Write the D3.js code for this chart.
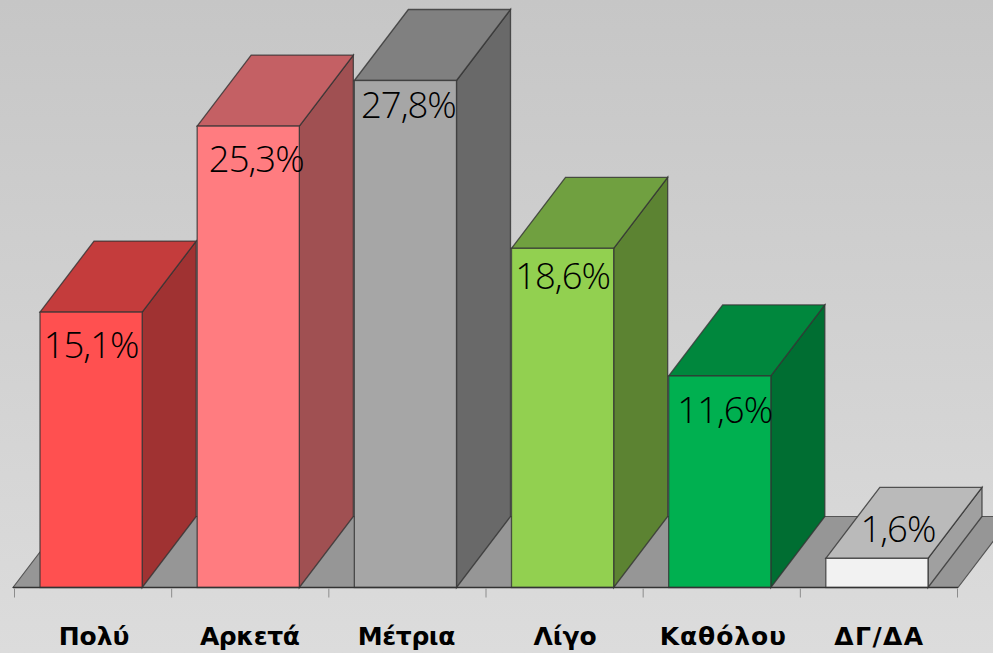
<!DOCTYPE html>
<html><head><meta charset="utf-8">
<script src="https://cdnjs.cloudflare.com/ajax/libs/d3/7.8.5/d3.min.js"></script>
<style>html,body{margin:0;padding:0;background:#d4d4d4}svg{display:block}</style>
</head><body><svg id="c" width="993" height="653"></svg>
<script>
const categories = ["Πολύ","Αρκετά","Μέτρια","Λίγο","Καθόλου","ΔΓ/ΔΑ"];
const values = [15.1,25.3,27.8,18.6,11.6,1.6];
const valueLabels = ["15,1%","25,3%","27,8%","18,6%","11,6%","1,6%"];
const frontColors = ["#ff5050","#ff7c80","#a6a6a6","#92d050","#00b050","#f2f2f2"];
const topColors = ["#c43c3c","#c46064","#808080","#70a040","#00873d","#bababa"];
const sideColors = ["#a03232","#a05052","#696969","#5c8332","#006e32","#a0a0a0"];
const labelDx = [0,8,3,0,5,21];
const labelDy = [46,46,37,41,47,-16];
const catDx = [3,1.5,1,2.5,3.5,2.5];
const catSpacing = [0,-0.4,-0.4,0,0.9,1.4];

const svg = d3.select("#c");
const defs = svg.append("defs");
const g = defs.append("linearGradient").attr("id","bg").attr("x1",0).attr("y1",0).attr("x2",0).attr("y2",1);
g.append("stop").attr("offset",0).attr("stop-color","#c6c6c6");
g.append("stop").attr("offset",1).attr("stop-color","#dcdcdc");
svg.append("rect").attr("width",993).attr("height",653).attr("fill","url(#bg)");

const base = 587.5, depthX = 54, depthY = 71;
const x = d3.scaleBand().domain(categories).range([12.5,955.5]).paddingInner(0.35).paddingOuter(0.175);
const y = d3.scaleLinear().domain([0,27.8]).range([base,80.5]);
const line = d3.line();
const stroke = "#333333";

// floor
const fl = 13, fr = 958;
svg.append("path").attr("d",line([[fl,base],[fl+depthX,base-depthY],[fr+depthX,base-depthY],[fr,base]])+"Z")
  .attr("fill","#969696").attr("stroke","#555").attr("stroke-width",1.2);

// bars
const bars = svg.selectAll("g.bar").data(categories).join("g").attr("class","bar");
bars.each(function(c,i){
  const s = d3.select(this), l = x(c), r = l + x.bandwidth(), t = y(values[i]);
  const so = 0.8, sw = 1.3;
  s.append("path").attr("d",line([[r,t],[r+depthX,t-depthY],[r+depthX,base-depthY],[r,base]])+"Z")
    .attr("fill",sideColors[i]).attr("stroke",stroke).attr("stroke-opacity",so).attr("stroke-width",sw);
  s.append("path").attr("d",line([[l,t],[l+depthX,t-depthY],[r+depthX,t-depthY],[r,t]])+"Z")
    .attr("fill",topColors[i]).attr("stroke",stroke).attr("stroke-opacity",so).attr("stroke-width",sw);
  s.append("rect").attr("x",l).attr("y",t).attr("width",r-l).attr("height",base-t)
    .attr("fill",frontColors[i]).attr("stroke",stroke).attr("stroke-opacity",so).attr("stroke-width",sw);
});

// baseline + ticks
svg.append("line").attr("x1",fl).attr("x2",fr).attr("y1",base).attr("y2",base).attr("stroke","#333").attr("stroke-width",1.3);
const step = x.step();
const tickPos = d3.range(categories.length+1).map(i => 14.5 + i*step);
svg.selectAll("line.tick").data(tickPos).join("line").attr("class","tick")
  .attr("x1",d=>d).attr("x2",d=>d).attr("y1",base+1).attr("y2",base+10).attr("stroke","#8c8c8c");

// category labels
svg.selectAll("text.cat").data(categories).join("text").attr("class","cat")
  .attr("x",(d,i)=>x(d)+x.bandwidth()/2+catDx[i]).attr("y",645)
  .attr("text-anchor","middle").attr("font-family","'DejaVu Sans',sans-serif").attr("font-weight","bold")
  .attr("font-size",25).attr("letter-spacing",(d,i)=>catSpacing[i]).attr("fill","#000").text(d=>d);

// value labels
svg.selectAll("text.val").data(categories).join("text").attr("class","val")
  .attr("x",(d,i)=>x(d)+x.bandwidth()/2+labelDx[i]).attr("y",(d,i)=>y(values[i])+labelDy[i])
  .attr("text-anchor","middle").attr("font-family","'Open Sans',sans-serif").attr("font-weight",300)
  .attr("font-size",36.5).attr("letter-spacing",-1).attr("fill","#000").text((d,i)=>valueLabels[i]);
</script></body></html>
